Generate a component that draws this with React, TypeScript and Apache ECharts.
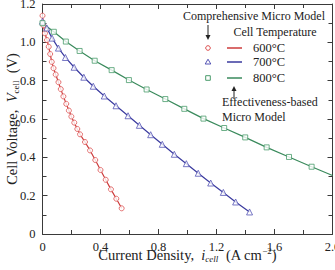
import { useEffect, useRef } from "react";
import * as echarts from "echarts";

// Comprehensive micro model points (markers) and effectiveness-based model (lines)
const current600 = [0, 0.006, 0.017, 0.031, 0.043, 0.053, 0.064, 0.076, 0.091, 0.11, 0.126, 0.144, 0.164, 0.182, 0.199, 0.219, 0.24, 0.259, 0.293, 0.328, 0.364, 0.4, 0.436, 0.472, 0.509, 0.546];
const voltage600 = [1.139, 1.089, 1.047, 1.012, 0.977, 0.939, 0.898, 0.865, 0.832, 0.792, 0.756, 0.718, 0.679, 0.644, 0.613, 0.581, 0.548, 0.52, 0.48, 0.436, 0.386, 0.334, 0.283, 0.233, 0.184, 0.134];

const current700 = [0, 0.03, 0.066, 0.11, 0.158, 0.218, 0.285, 0.35, 0.426, 0.507, 0.59, 0.668, 0.746, 0.826, 0.909, 0.992, 1.074, 1.16, 1.247, 1.332, 1.428];
const voltage700 = [1.11, 1.075, 1.022, 0.97, 0.921, 0.87, 0.818, 0.771, 0.72, 0.669, 0.617, 0.567, 0.518, 0.468, 0.416, 0.367, 0.317, 0.266, 0.217, 0.167, 0.115];

const current800 = [0, 0.078, 0.161, 0.256, 0.36, 0.477, 0.596, 0.718, 0.847, 0.978, 1.11, 1.253, 1.398, 1.546, 1.7, 1.856];
const voltage800 = [1.1, 1.055, 1.004, 0.955, 0.904, 0.855, 0.803, 0.754, 0.704, 0.653, 0.602, 0.553, 0.504, 0.452, 0.402, 0.351];
// the 800°C model curve runs on to the edge of the current range
const modelTail800I = [2.0];
const modelTail800V = [0.305];

const xTicks = [0, 0.4, 0.8, 1.2, 1.6, 2.0];
const yTicks = [0, 0.2, 0.4, 0.6, 0.8, 1.0, 1.2];

const RED = "#cc3b3b";
const RED_M = "#dd5050";
const BLUE = "#3a3a9e";
const BLUE_M = "#5555b5";
const GREEN = "#3a8a5c";
const GREEN_M = "#4a9c6c";
const AXIS = "#3a3a3a";
const FONT = "'Liberation Serif', 'DejaVu Serif', serif";

const zip = (a: number[], b: number[]) => a.map((v, i) => [v, b[i]]);

export default function App() {
  const ref = useRef<HTMLDivElement>(null);

  useEffect(() => {
    if (!ref.current) return;
    const chart = echarts.init(ref.current, undefined, { renderer: "svg" });

    const baseX = {
      type: "value" as const,
      min: xTicks[0],
      max: xTicks[xTicks.length - 1],
      interval: 0.4,
      splitLine: { show: false },
      axisLine: { show: true, onZero: false, lineStyle: { color: AXIS, width: 1 } },
      axisTick: { inside: true, length: 5, lineStyle: { color: AXIS } },
      minorTick: { show: true, splitNumber: 2, length: 4, lineStyle: { color: AXIS } },
    };
    const baseY = {
      type: "value" as const,
      min: yTicks[0],
      max: yTicks[yTicks.length - 1],
      interval: 0.2,
      splitLine: { show: false },
      axisLine: { show: true, onZero: false, lineStyle: { color: AXIS, width: 1 } },
      axisTick: { inside: true, length: 5, lineStyle: { color: AXIS } },
      minorTick: { show: true, splitNumber: 2, length: 4, lineStyle: { color: AXIS } },
    };

    const markerSeries = (name: string, data: number[][], symbol: string, color: string, size: number) => ({
      name,
      type: "scatter" as const,
      data,
      symbol,
      symbolSize: size,
      itemStyle: { color: "#ffffff", borderColor: color, borderWidth: 1 },
      z: 5,
    });
    const lineSeries = (name: string, data: number[][], color: string) => ({
      name,
      type: "line" as const,
      data,
      showSymbol: false,
      symbol: "none",
      lineStyle: { color, width: 1.2 },
      z: 3,
    });

    const lx = 208;
    const legendRows = [
      { y: 48, label: "600°C", color: RED, mColor: RED_M, shape: "circle" },
      { y: 62, label: "700°C", color: BLUE, mColor: BLUE_M, shape: "triangle" },
      { y: 78, label: "800°C", color: GREEN, mColor: GREEN_M, shape: "rect" },
    ];
    const legendGraphics: any[] = [];
    legendRows.forEach((r) => {
      if (r.shape === "circle") {
        legendGraphics.push({ type: "circle", shape: { cx: lx, cy: r.y, r: 2.3 }, style: { fill: "#fff", stroke: r.mColor, lineWidth: 1 } });
      } else if (r.shape === "triangle") {
        legendGraphics.push({ type: "polygon", shape: { points: [[lx, r.y - 2.8], [lx + 2.8, r.y + 2], [lx - 2.8, r.y + 2]] }, style: { fill: "#fff", stroke: r.mColor, lineWidth: 1 } });
      } else {
        legendGraphics.push({ type: "rect", shape: { x: lx - 2.3, y: r.y - 2.3, width: 4.6, height: 4.6 }, style: { fill: "#fff", stroke: r.mColor, lineWidth: 1 } });
      }
      legendGraphics.push({ type: "line", shape: { x1: 227, y1: r.y, x2: 242, y2: r.y }, style: { stroke: r.color, lineWidth: 1.5 } });
      legendGraphics.push({ type: "text", x: 253, y: r.y, style: { text: r.label, font: `12.5px ${FONT}`, fill: "#222", verticalAlign: "middle" } });
    });

    const numFmt = (v: number) => (v === 0 ? "0" : v.toFixed(1));

    chart.setOption({
      animation: false,
      backgroundColor: "#ffffff",
      grid: { left: 42.5, right: 2.5, top: 4, bottom: 36, containLabel: false, outerBoundsMode: "none" },
      xAxis: [
        {
          ...baseX,
          position: "bottom",
          axisLabel: { color: "#222", fontFamily: FONT, fontSize: 12.5, margin: 6, formatter: numFmt },
          name: "{n|Current Density,  }{it|i}{sub|cell}{n|  (A cm}{sup|−2}{n|)}",
          nameLocation: "middle",
          nameGap: 12.5,
          nameMoveOverlap: false,
          nameTextStyle: {
            rich: {
              n: { fontFamily: FONT, fontSize: 14.5, color: "#222", lineHeight: 17 },
              it: { fontFamily: FONT, fontSize: 14.5, fontStyle: "italic", color: "#222", lineHeight: 17 },
              sub: { fontFamily: FONT, fontSize: 9, fontStyle: "italic", color: "#222", lineHeight: 9, verticalAlign: "bottom" },
              sup: { fontFamily: FONT, fontSize: 9, color: "#222", lineHeight: 9, verticalAlign: "top" },
            },
          },
        },
        { ...baseX, position: "top", axisLabel: { show: false } },
      ],
      yAxis: [
        {
          ...baseY,
          position: "left",
          axisLabel: { color: "#222", fontFamily: FONT, fontSize: 12.5, margin: 7, formatter: numFmt },
          name: "{n|Cell Voltage,  }{it|V}{sub|cell}{n|  (V)}",
          nameLocation: "middle",
          nameRotate: 90,
          nameGap: 22,
          nameMoveOverlap: false,
          nameTextStyle: {
            rich: {
              n: { fontFamily: FONT, fontSize: 14.5, color: "#222", lineHeight: 17 },
              it: { fontFamily: FONT, fontSize: 14.5, fontStyle: "italic", color: "#222", lineHeight: 17 },
              sub: { fontFamily: FONT, fontSize: 9, color: "#222", lineHeight: 9, verticalAlign: "bottom" },
            },
          },
        },
        { ...baseY, position: "right", axisLabel: { show: false } },
      ],
      series: [
        lineSeries("600 model", zip(current600, voltage600), RED),
        lineSeries("700 model", zip(current700, voltage700), BLUE),
        lineSeries("800 model", zip(current800.concat(modelTail800I), voltage800.concat(modelTail800V)), GREEN),
        markerSeries("600°C", zip(current600, voltage600), "circle", RED_M, 5),
        markerSeries("700°C", zip(current700, voltage700), "triangle", BLUE_M, 6),
        markerSeries("800°C", zip(current800, voltage800), "rect", GREEN_M, 5),
      ],
      graphic: [
        { type: "text", x: 254, y: 16, style: { text: "Comprehensive Micro Model", font: `12px ${FONT}`, fill: "#222", align: "center", verticalAlign: "middle" }, z: 10 },
        { type: "line", shape: { x1: 208, y1: 25, x2: 208, y2: 38 }, style: { stroke: "#222", lineWidth: 1 }, z: 10 },
        { type: "polygon", shape: { points: [[205.5, 35], [210.5, 35], [208, 40]] }, style: { fill: "#222" }, z: 10 },
        { type: "text", x: 275, y: 32, style: { text: "Cell Temperature", font: `12px ${FONT}`, fill: "#222", align: "center", verticalAlign: "middle" }, z: 10 },
        ...legendGraphics.map((g) => ({ ...g, z: 10 })),
        { type: "line", shape: { x1: 234, y1: 88, x2: 234, y2: 99 }, style: { stroke: "#222", lineWidth: 1 }, z: 10 },
        { type: "polygon", shape: { points: [[231.5, 91], [236.5, 91], [234, 86]] }, style: { fill: "#222" }, z: 10 },
        { type: "text", x: 222, y: 102, style: { text: "Effectiveness-based", font: `12px ${FONT}`, fill: "#222", verticalAlign: "middle" }, z: 10 },
        { type: "text", x: 222, y: 117, style: { text: "Micro Model", font: `12px ${FONT}`, fill: "#222", verticalAlign: "middle" }, z: 10 },
      ],
    });

    return () => chart.dispose();
  }, []);

  return <div ref={ref} style={{ position: "fixed", left: 0, top: 0, width: 335, height: 270, background: "#fff" }} />;
}
